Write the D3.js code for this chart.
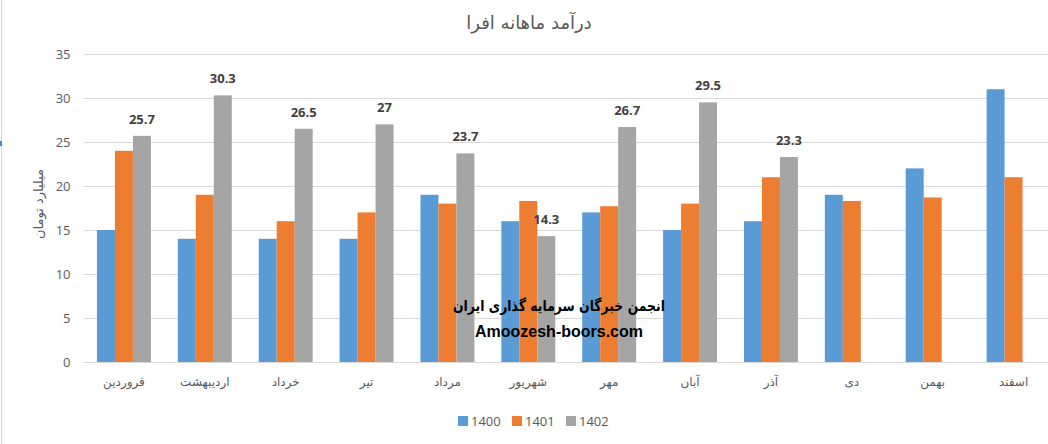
<!DOCTYPE html>
<html>
<head>
<meta charset="utf-8">
<script src="https://cdn.jsdelivr.net/npm/d3@7/dist/d3.min.js"></script>
<style>
  html, body { margin: 0; padding: 0; background: #fff; overflow: hidden; }
  svg { display: block; }
</style>
</head>
<body>
<svg id="chart" width="1048" height="444"></svg>
<script>
const categories = ["فروردین","اردیبهشت","خرداد","تیر","مرداد","شهریور","مهر","آبان","آذر","دی","بهمن","اسفند"];
const seriesNames = ["1400","1401","1402"];
const values1400 = [15, 14, 14, 14, 19, 16, 17, 15, 16, 19, 22, 31];
const values1401 = [24, 19, 16, 17, 18, 18.3, 17.7, 18, 21, 18.3, 18.7, 21];
const values1402 = [25.7, 30.3, 26.5, 27, 23.7, 14.3, 26.7, 29.5, 23.3, null, null, null];
const yTicks = [0, 5, 10, 15, 20, 25, 30, 35];
const colors = ["#5B9BD5", "#ED7D31", "#A5A5A5"];
const titleText = "درآمد ماهانه افرا";
const yAxisTitle = "میلیارد تومان";
const watermark1 = "انجمن خبرگان سرمایه گذاری ایران";
const watermark2 = "Amoozesh-boors.com";

const series = [values1400, values1401, values1402];
const svg = d3.select("#chart");
const arabicFont = "'DejaVu Sans', 'Noto Sans', sans-serif";
const latinFont = "'Open Sans', 'Liberation Sans', sans-serif";

const plot = {left: 83.5, right: 1054, top: 54, bottom: 362};

const x = d3.scaleBand().domain(categories).range([plot.left, plot.right]).paddingInner(0.333).paddingOuter(0.1665);
const xs = d3.scaleBand().domain(seriesNames).range([0, x.bandwidth()]);
const y = d3.scaleLinear().domain([0, 35]).range([plot.bottom, plot.top]);

// faint left border artifact
svg.append("line").attr("x1", 1.5).attr("x2", 1.5).attr("y1", 0).attr("y2", 444)
  .attr("stroke", "#d9d9d9").attr("stroke-width", 1);
svg.append("rect").attr("x", 0).attr("y", 141).attr("width", 2).attr("height", 5).attr("fill", "#3c8ddb");

// title
svg.append("text").attr("x", 529).attr("y", 29).attr("text-anchor", "middle")
  .attr("font-family", arabicFont).attr("font-size", 18).attr("fill", "#595959")
  .text(titleText);

// gridlines
const yAxis = d3.axisLeft(y).tickValues(yTicks).tickSize(-(plot.right - plot.left)).tickPadding(13);
const gy = svg.append("g").attr("transform", `translate(${plot.left},0)`).call(yAxis);
gy.select(".domain").remove();
gy.selectAll(".tick line").attr("stroke", "#d9d9d9").attr("stroke-width", 1);
gy.selectAll(".tick text").attr("font-family", latinFont).attr("font-size", 13).attr("fill", "#595959");

// y-axis title
svg.append("text").attr("transform", "translate(43,204) rotate(-90)").attr("text-anchor", "middle")
  .attr("font-family", arabicFont).attr("font-size", 13).attr("fill", "#595959")
  .text(yAxisTitle);

// bars
series.forEach((vals, si) => {
  svg.append("g").selectAll("rect")
    .data(categories.map((c, i) => ({c, v: vals[i]})).filter(d => d.v != null))
    .join("rect")
    .attr("x", d => x(d.c) + xs(seriesNames[si]))
    .attr("width", xs.bandwidth())
    .attr("y", d => y(d.v))
    .attr("height", d => y(0) - y(d.v))
    .attr("fill", colors[si]);
});

// data labels for 1402
svg.append("g").selectAll("text")
  .data(categories.map((c, i) => ({c, v: values1402[i]})).filter(d => d.v != null))
  .join("text")
  .attr("x", d => x(d.c) + xs("1402") + xs.bandwidth() / 2)
  .attr("y", d => y(d.v) - 12)
  .attr("text-anchor", "middle")
  .attr("font-family", latinFont).attr("font-size", 13).attr("font-weight", "bold").attr("fill", "#404040")
  .text(d => d.v);

// x axis
const xAxis = d3.axisBottom(x).tickSize(0).tickPadding(15);
const gx = svg.append("g").attr("transform", `translate(0,${plot.bottom})`).call(xAxis);
gx.select(".domain").attr("stroke", "#d9d9d9");
gx.selectAll(".tick text").attr("font-family", arabicFont).attr("font-size", 12).attr("fill", "#595959");

// watermark
svg.append("text").attr("x", 559).attr("y", 311).attr("text-anchor", "middle")
  .attr("font-family", arabicFont).attr("font-size", 15).attr("font-weight", "bold").attr("fill", "#000")
  .attr("textLength", 212).attr("lengthAdjust", "spacingAndGlyphs")
  .text(watermark1);
svg.append("text").attr("x", 559).attr("y", 337).attr("text-anchor", "middle")
  .attr("font-family", "'Liberation Sans', Arial, sans-serif").attr("font-size", 16).attr("font-weight", "bold").attr("fill", "#000")
  .text(watermark2);

// legend
const legendX = [458, 512, 566];
const lg = svg.append("g");
seriesNames.forEach((n, i) => {
  lg.append("rect").attr("x", legendX[i]).attr("y", 416).attr("width", 10).attr("height", 10).attr("fill", colors[i]);
  lg.append("text").attr("x", legendX[i] + 13).attr("y", 426)
    .attr("font-family", latinFont).attr("font-size", 13).attr("fill", "#595959").text(n);
});
</script>
</body>
</html>
